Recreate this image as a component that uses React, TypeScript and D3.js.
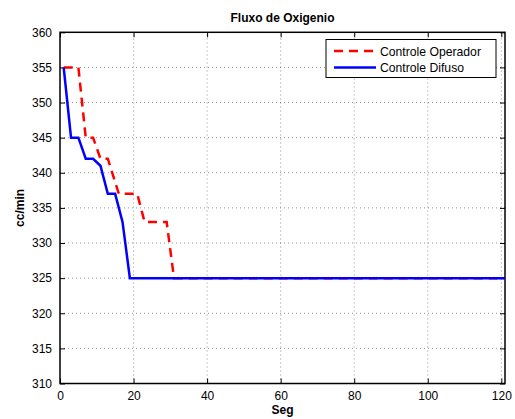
import React, { useEffect, useRef } from 'react';
import * as d3 from 'd3';

// time (s) and flow (cc/min)
const opX = [1, 5, 7, 9, 11, 13, 16, 21, 23, 29, 31, 121];
const opY = [355, 355, 345, 345, 342, 342, 337, 337, 333, 333, 325, 325];
const difX = [1, 3, 5, 7, 9, 11, 13, 15, 17, 19, 121];
const difY = [355, 345, 345, 342, 342, 341, 337, 337, 333, 325, 325];
const xTicks = [0, 20, 40, 60, 80, 100, 120];
const yTicks = [310, 315, 320, 325, 330, 335, 340, 345, 350, 355, 360];
const seriesNames = ['Controle Operador', 'Controle Difuso'];

export default function App() {
  const ref = useRef<SVGSVGElement>(null);

  useEffect(() => {
    const W = 515, H = 419;
    const margin = { top: 32, right: 10, bottom: 36, left: 60 };
    const svg = d3.select(ref.current);
    svg.selectAll('*').remove();
    svg.append('rect').attr('width', W).attr('height', H).attr('fill', '#fff');

    const x = d3.scaleLinear().domain([0, 121]).range([margin.left, W - margin.right]);
    const y = d3.scaleLinear().domain([310, 360]).range([H - margin.bottom + 0.5, margin.top + 0.3]);
    const font = 'Liberation Sans, Arial, Helvetica, sans-serif';

    // grid
    const grid = svg.append('g').attr('stroke', '#666').attr('stroke-width', 0.7).attr('stroke-dasharray', '1,3');
    xTicks.slice(1).forEach(t => {
      grid.append('line').attr('x1', x(t)).attr('x2', x(t)).attr('y1', y(310)).attr('y2', y(360));
    });
    yTicks.slice(1, -1).forEach(t => {
      grid.append('line').attr('x1', x(0)).attr('x2', x(121)).attr('y1', y(t)).attr('y2', y(t));
    });

    // axes, ticks pointing inward on all sides
    const tl = 5;
    svg.append('g').attr('transform', `translate(0,${y(310)})`)
      .call(d3.axisBottom(x).tickValues(xTicks).tickSizeInner(-tl).tickSizeOuter(0).tickPadding(8))
      .call(g => g.select('.domain').remove());
    svg.append('g').attr('transform', `translate(0,${y(360)})`)
      .call(d3.axisTop(x).tickValues(xTicks).tickSizeInner(-tl).tickSizeOuter(0).tickFormat(() => ''))
      .call(g => g.select('.domain').remove());
    svg.append('g').attr('transform', `translate(${x(0)},0)`)
      .call(d3.axisLeft(y).tickValues(yTicks).tickSizeInner(-tl).tickSizeOuter(0).tickPadding(8))
      .call(g => g.select('.domain').remove());
    svg.append('g').attr('transform', `translate(${x(121)},0)`)
      .call(d3.axisRight(y).tickValues(yTicks).tickSizeInner(-tl).tickSizeOuter(0).tickFormat(() => ''))
      .call(g => g.select('.domain').remove());
    svg.selectAll('.tick text').attr('font-family', font).attr('font-size', 12).attr('fill', '#000');
    svg.selectAll('.tick line').attr('stroke', '#000');

    svg.append('rect')
      .attr('x', x(0)).attr('y', y(360))
      .attr('width', x(121) - x(0)).attr('height', y(310) - y(360))
      .attr('fill', 'none').attr('stroke', '#000').attr('stroke-width', 1.5);

    const line = d3.line<[number, number]>().x(d => x(d[0])).y(d => y(d[1]));
    const opData = opX.map((v, i) => [v, opY[i]] as [number, number]);
    const difData = difX.map((v, i) => [v, difY[i]] as [number, number]);

    svg.append('path').datum(opData).attr('d', line)
      .attr('fill', 'none').attr('stroke', '#ff0000').attr('stroke-width', 2.5)
      .attr('stroke-dasharray', '9,6');
    svg.append('path').datum(difData).attr('d', line)
      .attr('fill', 'none').attr('stroke', '#0000ff').attr('stroke-width', 2.5);

    // title and labels
    svg.append('text').attr('x', (x(0) + x(121)) / 2).attr('y', 22)
      .attr('text-anchor', 'middle').attr('font-family', font).attr('font-weight', 'bold')
      .attr('font-size', 12).text('Fluxo de Oxigenio');
    svg.append('text').attr('x', (x(0) + x(121)) / 2).attr('y', 414)
      .attr('text-anchor', 'middle').attr('font-family', font).attr('font-weight', 'bold')
      .attr('font-size', 12).text('Seg');
    svg.append('text').attr('transform', `translate(24,${(y(310) + y(360)) / 2}) rotate(-90)`)
      .attr('text-anchor', 'middle').attr('font-family', font).attr('font-weight', 'bold')
      .attr('font-size', 12).text('cc/min');

    // legend
    const lg = svg.append('g');
    lg.append('rect').attr('x', 326).attr('y', 39.5).attr('width', 170).attr('height', 38)
      .attr('fill', '#fff').attr('stroke', '#000').attr('stroke-width', 1);
    const colors = ['#ff0000', '#0000ff'];
    seriesNames.forEach((name, i) => {
      const ly = 51 + i * 16.5;
      lg.append('line').attr('x1', 334).attr('x2', 376).attr('y1', ly).attr('y2', ly)
        .attr('stroke', colors[i]).attr('stroke-width', 2.5)
        .attr('stroke-dasharray', i === 0 ? '9,6' : null);
      lg.append('text').attr('x', 380).attr('y', ly + 4.5).attr('font-family', font)
        .attr('font-size', 12.2).text(name);
    });
  }, []);

  return <svg ref={ref} width={515} height={419} style={{ position: 'absolute', left: 0, top: 0 }} />;
}
